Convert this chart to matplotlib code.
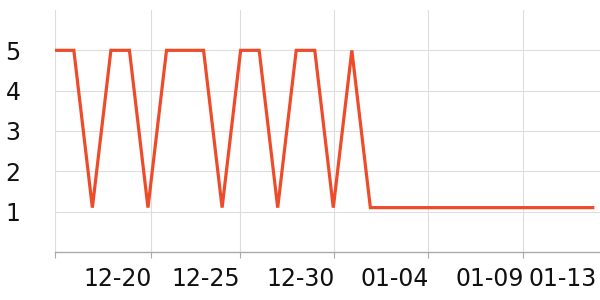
import matplotlib
matplotlib.use("Agg")
import matplotlib.pyplot as plt
import matplotlib.dates as mdates
import pandas as pd

values = [5, 5, 1.1, 5, 5, 1.1, 5, 5, 5, 1.1, 5, 5, 1.1, 5, 5, 1.1, 5, 1.1,
          1.1, 1.1, 1.1, 1.1, 1.1, 1.1, 1.1, 1.1, 1.1, 1.1, 1.1, 1.1]
start_date = "2023-12-15"
tick_times = ["2023-12-20 04:20", "2023-12-24 23:37", "2023-12-30 01:22",
              "2024-01-04 03:07", "2024-01-09 06:09", "2024-01-13 05:31"]
tick_labels = ["12-20", "12-25", "12-30", "01-04", "01-09", "01-13"]
y_ticks = [1, 2, 3, 4, 5]

dates = pd.date_range(start=start_date, periods=len(values), freq="D")

fig = plt.figure(figsize=(6, 3), dpi=100)
ax = fig.add_axes([55.3/600, 48/300, 544.7/600, 242/300])

ax.plot(dates, values, color="#EE4B2B", linewidth=2.3, solid_joinstyle="miter")

xmin = mdates.date2num(pd.Timestamp(start_date))
xmax = xmin + 29.39
ax.set_xlim(xmin, xmax)
ax.set_ylim(0, 6)

tick_pos = [xmin] + [mdates.date2num(pd.Timestamp(d)) for d in tick_times]
ax.set_xticks(tick_pos)
ax.set_xticklabels([""] + tick_labels, ha="right")
ax.set_yticks(y_ticks)
ax.set_yticklabels([str(v) for v in y_ticks])

ax.grid(True, color="#dddddd", linewidth=0.8)
ax.set_axisbelow(True)
for s in ["top", "right", "left"]:
    ax.spines[s].set_visible(False)
ax.spines["bottom"].set_color("#aaaaaa")
ax.spines["bottom"].set_linewidth(1)

ax.tick_params(axis="x", direction="out", length=4, color="#aaaaaa", labelsize=17, pad=7, labelcolor="#111111")
ax.tick_params(axis="y", length=0, labelsize=17, pad=25, labelcolor="#111111")

# hide gridline and tick mark for the last label (01-13)
ax.get_xgridlines()[-1].set_visible(False)
ax.xaxis.get_major_ticks()[-1].tick1line.set_visible(False)

fig.savefig("out.png", dpi=100)
